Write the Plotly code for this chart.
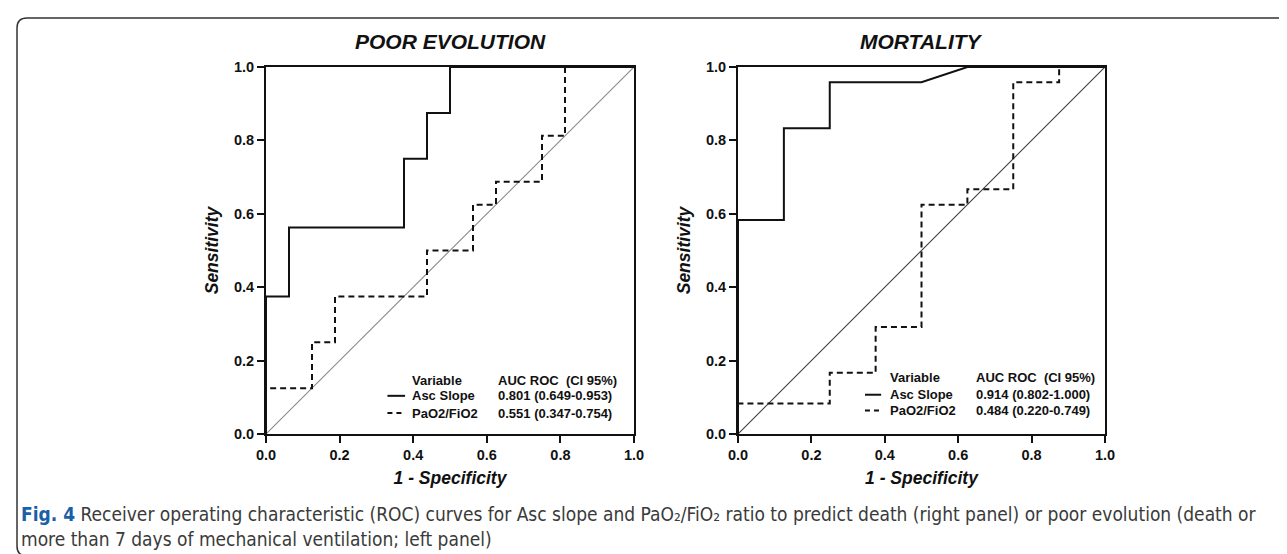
import plotly.graph_objects as go

W, H = 1287, 554

# ---------------- data ----------------
# POOR EVOLUTION panel
pe_asc_fpr = [0, 0, 0.0625, 0.0625, 0.375, 0.375, 0.4375, 0.4375, 0.5, 0.5, 1.0]
pe_asc_tpr = [0, 0.375, 0.375, 0.5625, 0.5625, 0.75, 0.75, 0.875, 0.875, 1.0, 1.0]
pe_pao2_fpr = [0, 0, 0.125, 0.125, 0.1875, 0.1875, 0.4375, 0.4375, 0.5625, 0.5625,
               0.625, 0.625, 0.75, 0.75, 0.8125, 0.8125, 1.0]
pe_pao2_tpr = [0, 0.125, 0.125, 0.25, 0.25, 0.375, 0.375, 0.5, 0.5, 0.625,
               0.625, 0.6875, 0.6875, 0.8125, 0.8125, 1.0, 1.0]

# MORTALITY panel
mo_asc_fpr = [0, 0, 0.125, 0.125, 0.25, 0.25, 0.5, 0.625, 1.0]
mo_asc_tpr = [0, 0.5833, 0.5833, 0.8333, 0.8333, 0.9583, 0.9583, 1.0, 1.0]
mo_pao2_fpr = [0, 0, 0.25, 0.25, 0.375, 0.375, 0.5, 0.5, 0.625, 0.625, 0.75, 0.75,
               0.875, 0.875, 1.0]
mo_pao2_tpr = [0, 0.0833, 0.0833, 0.1667, 0.1667, 0.2917, 0.2917, 0.625, 0.625,
               0.6667, 0.6667, 0.9583, 0.9583, 1.0, 1.0]

diag = [0, 1]

tick_vals = [0, 0.2, 0.4, 0.6, 0.8, 1.0]
tick_text = ["0.0", "0.2", "0.4", "0.6", "0.8", "1.0"]

panel_titles = ["POOR EVOLUTION", "MORTALITY"]
x_title = "1 - Specificity"
y_title = "Sensitivity"
legend_header = ["Variable", "AUC ROC  (CI 95%)"]
legend_names = ["Asc Slope", "PaO2/FiO2"]
pe_auc_text = ["0.801 (0.649-0.953)", "0.551 (0.347-0.754)"]
mo_auc_text = ["0.914 (0.802-1.000)", "0.484 (0.220-0.749)"]

caption_l1 = ("<b style='color:#1b5fa8'>Fig. 4</b> Receiver operating characteristic (ROC) curves for Asc slope "
              "and PaO\u2082/FiO\u2082 ratio to predict death (right panel) or poor evolution (death or")
caption_l2 = "more than 7 days of mechanical ventilation; left panel)"

# ---------------- helpers ----------------
def px(x):
    return x / W

def py(y):
    return 1 - y / H

FONT = "Liberation Sans, Arial, sans-serif"
CAPFONT = "Liberation Sans Narrow, DejaVu Sans Condensed, Roboto Condensed, Arial Narrow, Liberation Sans, sans-serif"

fig = go.Figure()

panels = [
    dict(xa="x", ya="y", asc=(pe_asc_fpr, pe_asc_tpr), pao=(pe_pao2_fpr, pe_pao2_tpr),
         diag_color="#8a8a8a"),
    dict(xa="x2", ya="y2", asc=(mo_asc_fpr, mo_asc_tpr), pao=(mo_pao2_fpr, mo_pao2_tpr),
         diag_color="#3c3c3c"),
]

for p in panels:
    fig.add_trace(go.Scatter(x=diag, y=diag, mode="lines", xaxis=p["xa"], yaxis=p["ya"],
                             line=dict(color=p["diag_color"], width=1.1), cliponaxis=False,
                             showlegend=False, hoverinfo="skip"))
    fig.add_trace(go.Scatter(x=p["pao"][0], y=p["pao"][1], mode="lines", xaxis=p["xa"], yaxis=p["ya"],
                             line=dict(color="#111111", width=2, dash="6px,4px"), cliponaxis=False,
                             showlegend=False))
    fig.add_trace(go.Scatter(x=p["asc"][0], y=p["asc"][1], mode="lines", xaxis=p["xa"], yaxis=p["ya"],
                             line=dict(color="#111111", width=2), cliponaxis=False,
                             showlegend=False))

title_font = dict(family=FONT, size=17.5, color="#111111", weight="bold", style="italic")
axis_common = dict(range=[0, 1], showline=True, mirror=True, linecolor="#111111", linewidth=2,
                   ticks="outside", ticklen=7, tickwidth=1.5, tickcolor="#111111",
                   tickvals=tick_vals, ticktext=tick_text, showgrid=False, zeroline=False,
                   automargin=False,
                   tickfont=dict(family=FONT, size=14.5, color="#111111", weight="bold"))

ydom = [py(426), py(59)]
fig.update_layout(
    width=W, height=H, margin=dict(l=0, r=0, t=0, b=0),
    paper_bgcolor="white", plot_bgcolor="white", showlegend=False,
    xaxis=dict(domain=[px(258), px(626)], anchor="y",
               title=dict(text=x_title, font=title_font, standoff=9), **axis_common),
    yaxis=dict(domain=ydom, anchor="x",
               title=dict(text=y_title, font=title_font, standoff=11), **axis_common),
    xaxis2=dict(domain=[px(730), px(1097)], anchor="y2",
                title=dict(text=x_title, font=title_font, standoff=9), **axis_common),
    yaxis2=dict(domain=ydom, anchor="x2",
                title=dict(text=y_title, font=title_font, standoff=11), **axis_common),
)

ann = []
shapes = []
centers = [442, 913]
leg_geo = [
    dict(xa="x", ya="y", line0=0.33, line1=0.378, txt=0.391, val=0.625,
         rows=[0.147, 0.104, 0.057], auc=pe_auc_text),
    dict(xa="x2", ya="y2", line0=0.346, line1=0.39, txt=0.409, val=0.643,
         rows=[0.153, 0.107, 0.064], auc=mo_auc_text),
]
for i in range(2):
    ann.append(dict(text=panel_titles[i], x=px(centers[i]), y=py(34), xref="paper", yref="paper",
                    showarrow=False, xanchor="center", yanchor="middle",
                    font=dict(family=FONT, size=21, color="#111111", weight="bold", style="italic")))
    g = leg_geo[i]
    lf = dict(family=FONT, size=13, color="#111111", weight="bold")
    ann.append(dict(text=legend_header[0], x=g["txt"], y=g["rows"][0], xref=g["xa"], yref=g["ya"],
                    showarrow=False, xanchor="left", yanchor="middle", font=lf))
    ann.append(dict(text=legend_header[1], x=g["val"], y=g["rows"][0], xref=g["xa"], yref=g["ya"],
                    showarrow=False, xanchor="left", yanchor="middle", font=lf))
    for k in range(2):
        ann.append(dict(text=legend_names[k], x=g["txt"], y=g["rows"][k + 1], xref=g["xa"], yref=g["ya"],
                        showarrow=False, xanchor="left", yanchor="middle", font=lf))
        ann.append(dict(text=g["auc"][k], x=g["val"], y=g["rows"][k + 1], xref=g["xa"], yref=g["ya"],
                        showarrow=False, xanchor="left", yanchor="middle", font=lf))
        shapes.append(dict(type="line", xref=g["xa"], yref=g["ya"], x0=g["line0"], x1=g["line1"],
                           y0=g["rows"][k + 1], y1=g["rows"][k + 1],
                           line=dict(color="#111111", width=2, dash="solid" if k == 0 else "5px,4px")))

ann.append(dict(text=caption_l1, x=px(11), y=py(506), xref="paper", yref="paper", showarrow=False,
                xanchor="left", yanchor="middle", align="left",
                font=dict(family=CAPFONT, size=19, color="#3a3a3a")))
ann.append(dict(text=caption_l2, x=px(11), y=py(531), xref="paper", yref="paper", showarrow=False,
                xanchor="left", yanchor="middle", align="left",
                font=dict(family=CAPFONT, size=19, color="#3a3a3a")))

# rounded outer frame
L, T, R, B, r = px(9), py(10), px(1279), py(548), 10
rx, ry = r / W, r / H
path = (f"M {L+rx},{T} L {R},{T} L {R},{B} L {L+rx},{B} "
        f"Q {L},{B} {L},{B+ry} L {L},{T-ry} Q {L},{T} {L+rx},{T} Z")
shapes.append(dict(type="path", xref="paper", yref="paper", path=path,
                   line=dict(color="#333333", width=1.5), layer="below"))

fig.update_layout(annotations=ann, shapes=shapes)
fig.write_html("out.html")
